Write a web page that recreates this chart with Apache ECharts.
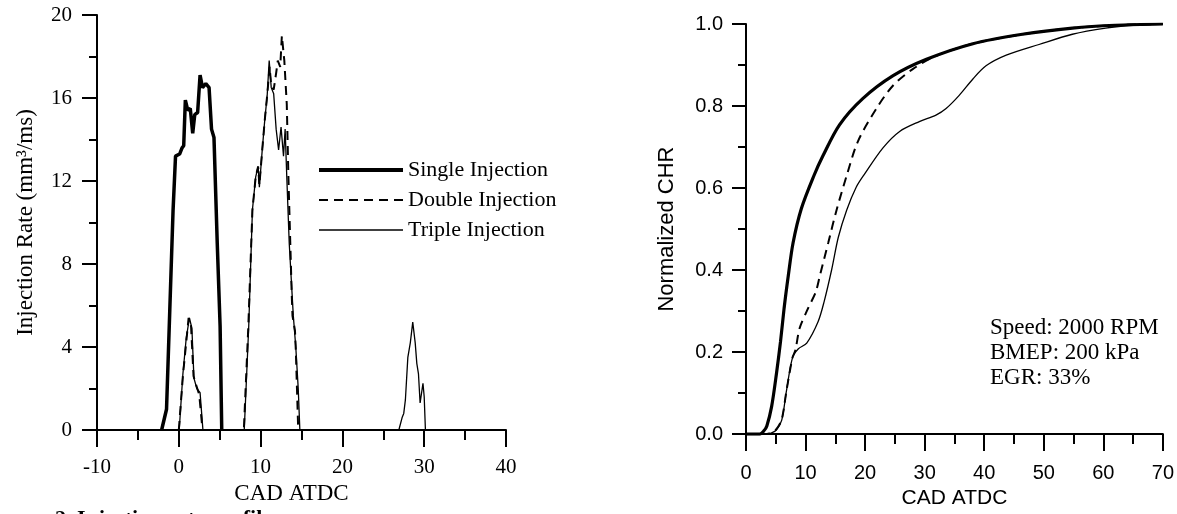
<!DOCTYPE html>
<html>
<head>
<meta charset="utf-8">
<script src="https://cdn.jsdelivr.net/npm/echarts@6/dist/echarts.min.js"></script>
<style>
  html, body { margin: 0; padding: 0; background: #fff; }
  #chart { width: 1177px; height: 514px; }
</style>
</head>
<body>
<div id="chart"></div>
<script>
// injection rate (mm3/ms) vs CAD ATDC
const seriesNames = ['Single Injection', 'Double Injection', 'Triple Injection'];

const singleRate = [
  [-2.1, 0], [-1.5, 1.0], [-1.1, 5.8], [-0.7, 10.6], [-0.4, 13.2], [0.1, 13.3], [0.4, 13.6],
  [0.6, 13.7], [0.8, 15.9], [1.1, 15.4], [1.4, 15.5], [1.7, 14.3], [1.95, 15.2], [2.3, 15.3],
  [2.6, 17.1], [2.9, 16.5], [3.3, 16.7], [3.7, 16.5], [4.0, 14.5], [4.3, 14.1], [4.7, 9.0],
  [5.05, 5.0], [5.25, 0]
];
const doubleRate = [
  [0, 0], [0.5, 2.6], [0.9, 4.2], [1.2, 5.4], [1.5, 5.0], [1.8, 2.6], [2.1, 2.2], [2.5, 1.7],
  [2.9, 0], [7.95, 0], [8.5, 5.0], [9.0, 10.6], [9.4, 12.2], [9.7, 12.7], [9.85, 11.8],
  [10.2, 13.5], [10.5, 14.9], [10.8, 16.1], [11.1, 17.5], [11.3, 16.6], [11.6, 16.4],
  [11.9, 17.2], [12.1, 17.8], [12.4, 17.5], [12.6, 19.0], [12.9, 17.8], [13.2, 15.7],
  [13.4, 12.2], [13.8, 6.6], [13.9, 5.5], [14.2, 4.8], [14.3, 3.9], [14.6, 0]
];
const tripleRate = [
  [0.05, 0], [0.5, 2.7], [0.9, 4.4], [1.3, 5.4], [1.6, 4.9], [1.85, 2.5], [2.2, 2.0], [2.6, 1.8],
  [2.95, 0], [8.0, 0], [8.55, 5.0], [9.0, 10.6], [9.4, 12.2], [9.7, 12.7], [9.85, 11.7],
  [10.2, 13.5], [10.5, 14.9], [10.8, 16.1], [11.05, 17.8], [11.3, 16.5], [11.6, 16.2],
  [11.9, 14.5], [12.2, 13.5], [12.5, 14.6], [12.8, 13.2], [13.0, 14.5], [13.2, 12.2],
  [13.5, 9.0], [14.0, 5.5], [14.3, 4.0], [14.6, 2.0], [14.8, 0], [26.9, 0], [27.3, 0.6],
  [27.5, 0.8], [27.7, 1.45], [28.0, 3.5], [28.3, 4.2], [28.6, 5.2], [28.9, 4.2], [29.1, 3.2],
  [29.3, 2.7], [29.5, 1.3], [29.85, 2.25], [30.0, 1.6], [30.15, 0]
];

// normalized cumulative heat release vs CAD ATDC
const singleChr = [
  [0, 0], [2.3, 0], [3.0, 0.008], [3.5, 0.02], [4.3, 0.067], [5.1, 0.146], [5.8, 0.226],
  [6.4, 0.307], [7.1, 0.386], [7.9, 0.466], [9.3, 0.55], [11.4, 0.63], [12.9, 0.678],
  [15.7, 0.754], [19.6, 0.818], [24.7, 0.874], [30.3, 0.914], [38.1, 0.952], [46.4, 0.975],
  [54.8, 0.99], [62, 0.997], [70, 1.0]
];
const doubleChr = [
  [0, 0], [3.5, 0], [4.3, 0.004], [5.1, 0.012], [6.0, 0.036], [6.8, 0.106], [7.8, 0.186],
  [8.3, 0.205], [9.0, 0.258], [10.4, 0.306], [11.7, 0.346], [12.4, 0.386], [13.8, 0.466],
  [15.2, 0.546], [16.9, 0.63], [18.8, 0.714], [21.9, 0.794], [24.7, 0.85], [28.0, 0.89],
  [31.9, 0.922], [38.1, 0.952], [46.4, 0.975], [54.8, 0.99], [62, 0.997], [70, 1.0]
];
const tripleChr = [
  [0, 0], [3.5, 0], [4.3, 0.003], [5.1, 0.01], [6.0, 0.034], [6.8, 0.106], [7.8, 0.186],
  [8.8, 0.208], [10.2, 0.222], [12.1, 0.274], [13.1, 0.322], [14.4, 0.402], [15.5, 0.48],
  [16.9, 0.546], [18.5, 0.602], [19.9, 0.634], [23.0, 0.698], [25.8, 0.738], [29.1, 0.762],
  [31.9, 0.778], [33.6, 0.794], [35.8, 0.826], [38.1, 0.866], [40.3, 0.898], [43.7, 0.924],
  [49.2, 0.95], [54.8, 0.975], [60.4, 0.99], [65, 0.997], [70, 1.0]
];

const noteLines = ['Speed: 2000 RPM', 'BMEP: 200 kPa', 'EGR: 33%'];

const chart = echarts.init(document.getElementById('chart'));

const serif = 'Liberation Serif';
const sans = 'Liberation Sans';
const black = '#000';
const widths = [3.5, 2, 1.3];  // single, double, triple

function axisBase(font, size) {
  return {
    type: 'value',
    axisLine: { onZero: false, lineStyle: { color: black, width: 2 } },
    axisTick: { show: true, length: 15, lineStyle: { color: black, width: 2 } },
    minorTick: { show: true, splitNumber: 2, length: 8, lineStyle: { color: black, width: 2 } },
    splitLine: { show: false },
    axisLabel: { color: black, fontFamily: font, fontSize: size },
    nameTextStyle: { color: black, fontFamily: font, fontSize: 23 }
  };
}

const lx = axisBase(serif, 21);
Object.assign(lx, { gridIndex: 0, min: -10, max: 40, interval: 10, name: 'CAD ATDC',
  nameLocation: 'middle', nameGap: 52 });
lx.axisTick = Object.assign({}, lx.axisTick, { length: 17 });
lx.minorTick = Object.assign({}, lx.minorTick, { length: 10 });
lx.axisLabel = Object.assign({}, lx.axisLabel, { margin: 27 });
lx.nameTextStyle = Object.assign({}, lx.nameTextStyle, { padding: [0, 20, 0, 0] });

const ly = axisBase(serif, 21);
Object.assign(ly, { gridIndex: 0, min: 0, max: 20, interval: 4, name: 'Injection Rate (mm³/ms)',
  nameLocation: 'middle', nameGap: 60 });
ly.axisLabel = Object.assign({}, ly.axisLabel, { margin: 25 });

const rx = axisBase(sans, 20);
Object.assign(rx, { gridIndex: 1, min: 0, max: 70, interval: 10, name: 'CAD ATDC',
  nameLocation: 'middle', nameGap: 46 });
rx.axisTick = Object.assign({}, rx.axisTick, { length: 17 });
rx.minorTick = Object.assign({}, rx.minorTick, { length: 10 });
rx.axisLabel = Object.assign({}, rx.axisLabel, { margin: 29 });
rx.nameTextStyle = Object.assign({}, rx.nameTextStyle, { fontFamily: sans, fontSize: 21 });

const ry = axisBase(sans, 20);
Object.assign(ry, { gridIndex: 1, min: 0, max: 1, interval: 0.2, name: 'Normalized CHR',
  nameLocation: 'middle', nameGap: 68 });
ry.axisTick = Object.assign({}, ry.axisTick, { length: 14 });
ry.axisLabel = Object.assign({}, ry.axisLabel, { margin: 23, formatter: v => v.toFixed(1) });
ry.nameTextStyle = Object.assign({}, ry.nameTextStyle, { fontFamily: sans, fontSize: 22 });

function line(name, data, axisIdx, width, dashed) {
  return {
    name: name,
    type: 'line',
    xAxisIndex: axisIdx,
    yAxisIndex: axisIdx,
    data: data,
    symbol: 'none',
    smooth: axisIdx === 1 ? 0.3 : false,
    lineStyle: { color: black, width: width, type: dashed ? [9, 6] : 'solid' },
    itemStyle: { color: black },
    z: 3
  };
}

const option = {
  animation: false,
  backgroundColor: '#fff',
  grid: [
    { left: 97, right: 671, top: 15, bottom: 84 },
    { left: 746, right: 13, top: 24, bottom: 73 }
  ],
  xAxis: [lx, rx],
  yAxis: [ly, ry],
  legend: {
    data: seriesNames.map((n, i) => ({
      name: n,
      lineStyle: { color: black, width: i === 0 ? 4 : widths[i], type: i === 1 ? [9, 6] : 'solid' }
    })),
    orient: 'vertical',
    left: 312,
    top: 154,
    itemWidth: 84,
    itemHeight: 14,
    itemGap: 8,
    selectedMode: false,
    itemStyle: { opacity: 0 },
    textStyle: { color: black, fontFamily: serif, fontSize: 22, lineHeight: 22 }
  },
  graphic: [
    {
      type: 'text',
      left: 990,
      top: 315,
      style: {
        text: noteLines.join('\n'),
        font: '23px "Liberation Serif"',
        lineHeight: 25,
        fill: black
      }
    },
    {
      type: 'text',
      left: 55,
      top: 508,
      style: {
        text: '2. Injection rate profiles',
        font: 'bold 22px "Liberation Serif"',
        fill: black
      }
    }
  ],
  series: [
    line(seriesNames[0], singleRate, 0, widths[0], false),
    line(seriesNames[1], doubleRate, 0, widths[1], true),
    line(seriesNames[2], tripleRate, 0, widths[2], false),
    line(seriesNames[0], singleChr, 1, 3.2, false),
    line(seriesNames[1], doubleChr, 1, 2, true),
    line(seriesNames[2], tripleChr, 1, 1.3, false)
  ]
};

chart.setOption(option);
</script>
</body>
</html>
